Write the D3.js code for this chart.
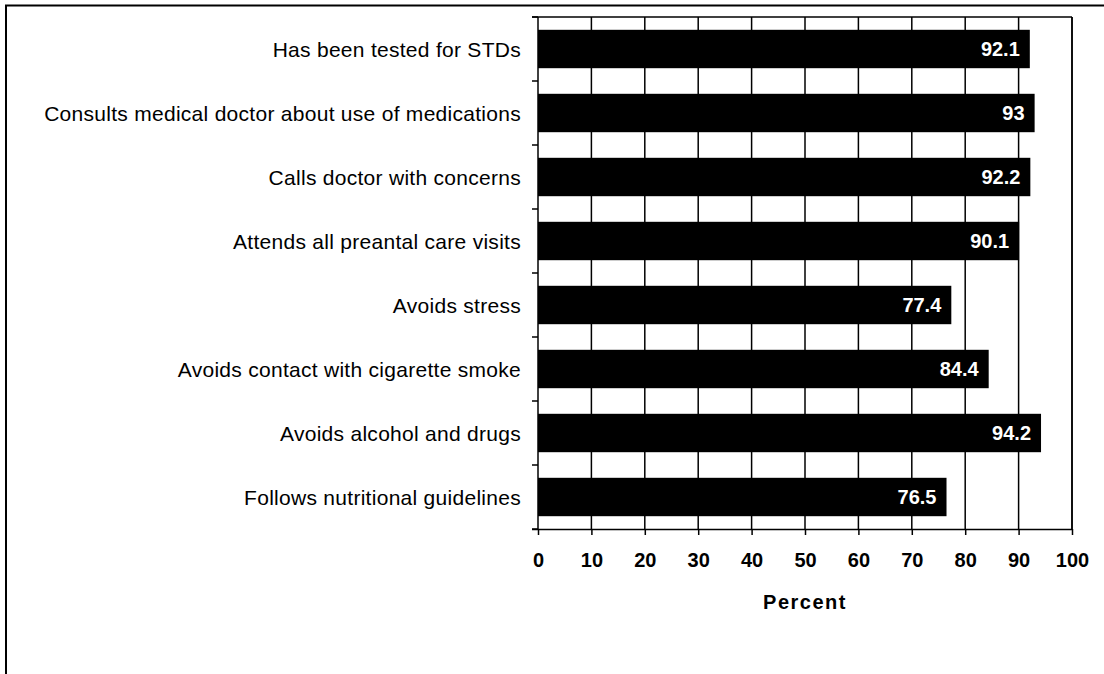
<!DOCTYPE html>
<html>
<head>
<meta charset="utf-8">
<script src="https://cdn.jsdelivr.net/npm/d3@7"></script>
<style>
  html, body { margin: 0; padding: 0; background: #fff; }
  svg { display: block; }
  text { font-family: "Liberation Sans", Arial, sans-serif; }
</style>
</head>
<body>
<div id="chart"></div>
<script>
// Prenatal behaviours, percent of respondents
const categories = [
  "Has been tested for STDs",
  "Consults medical doctor about use of medications",
  "Calls doctor with concerns",
  "Attends all preantal care visits",
  "Avoids stress",
  "Avoids contact with cigarette smoke",
  "Avoids alcohol and drugs",
  "Follows nutritional guidelines"
];
const values = [92.1, 93, 92.2, 90.1, 77.4, 84.4, 94.2, 76.5];
const valueLabels = ["92.1", "93", "92.2", "90.1", "77.4", "84.4", "94.2", "76.5"];
const xTicks = [0, 10, 20, 30, 40, 50, 60, 70, 80, 90, 100];
const xTitle = "Percent";

const W = 1104, H = 674;
const plot = { left: 538, right: 1072, top: 17, bottom: 529 };

const svg = d3.select("#chart").append("svg")
  .attr("width", W).attr("height", H);

// outer frame (top and left edges)
svg.append("line").attr("x1", 5).attr("x2", W).attr("y1", 5.5).attr("y2", 5.5)
  .attr("stroke", "#000").attr("stroke-width", 2);
svg.append("line").attr("x1", 6).attr("x2", 6).attr("y1", 5).attr("y2", H)
  .attr("stroke", "#000").attr("stroke-width", 2);

const x = d3.scaleLinear().domain([0, 100]).range([plot.left, plot.right]);
const y = d3.scaleBand().domain(categories).range([plot.top, plot.bottom])
  .paddingInner(0.4).paddingOuter(0.2);

// vertical gridlines
svg.append("g").selectAll("line").data(xTicks.filter(d => d > 0))
  .join("line")
  .attr("x1", d => x(d)).attr("x2", d => x(d))
  .attr("y1", plot.top).attr("y2", plot.bottom)
  .attr("stroke", "#000").attr("stroke-width", 1.5);

// top border of plot area
svg.append("line")
  .attr("x1", plot.left - 6).attr("x2", plot.right)
  .attr("y1", plot.top).attr("y2", plot.top)
  .attr("stroke", "#000").attr("stroke-width", 1.5);

// bars
svg.append("g").selectAll("rect").data(values)
  .join("rect")
  .attr("x", x(0))
  .attr("y", (d, i) => y(categories[i]))
  .attr("width", d => x(d) - x(0))
  .attr("height", y.bandwidth())
  .attr("fill", "#000");

// value labels inside bar ends
svg.append("g").selectAll("text").data(values)
  .join("text")
  .attr("x", d => x(d) - 10)
  .attr("y", (d, i) => y(categories[i]) + y.bandwidth() / 2)
  .attr("dy", "0.36em")
  .attr("text-anchor", "end")
  .attr("fill", "#fff")
  .attr("font-weight", "bold")
  .attr("font-size", 20)
  .text((d, i) => valueLabels[i]);

// x axis
const xAxis = d3.axisBottom(x).tickValues(xTicks).tickSizeInner(6).tickSizeOuter(0).tickPadding(18);
const gx = svg.append("g").attr("transform", `translate(0,${plot.bottom})`).call(xAxis);
gx.select(".domain").attr("d", `M${plot.left - 6},0.5H${plot.right}`)
  .attr("stroke", "#000").attr("stroke-width", 1.5);
gx.selectAll(".tick line").attr("stroke", "#000").attr("stroke-width", 1.5);
gx.selectAll(".tick text")
  .attr("font-family", "'Liberation Sans', Arial, sans-serif")
  .attr("font-size", 20).attr("font-weight", "bold").attr("fill", "#000");

// y axis with ticks at category boundaries
const bounds = d3.range(categories.length + 1).map(i => plot.top + i * (plot.bottom - plot.top) / categories.length);
svg.append("line").attr("x1", plot.left).attr("x2", plot.left)
  .attr("y1", plot.top).attr("y2", plot.bottom)
  .attr("stroke", "#000").attr("stroke-width", 1.5);
svg.append("g").selectAll("line").data(bounds)
  .join("line")
  .attr("x1", plot.left - 6).attr("x2", plot.left)
  .attr("y1", d => d).attr("y2", d => d)
  .attr("stroke", "#000").attr("stroke-width", 1.5);

// right border of plot area
svg.append("line").attr("x1", plot.right).attr("x2", plot.right)
  .attr("y1", plot.top).attr("y2", plot.bottom)
  .attr("stroke", "#000").attr("stroke-width", 1.5);

// category labels
svg.append("g").selectAll("text").data(categories)
  .join("text")
  .attr("x", plot.left - 17)
  .attr("y", d => y(d) + y.bandwidth() / 2)
  .attr("dy", "0.36em")
  .attr("text-anchor", "end")
  .attr("font-size", 21)
  .attr("letter-spacing", "0.28px")
  .attr("fill", "#000")
  .text(d => d);

// axis title
svg.append("text")
  .attr("x", (plot.left + plot.right) / 2)
  .attr("y", 609)
  .attr("text-anchor", "middle")
  .attr("font-size", 20)
  .attr("font-weight", "bold")
  .attr("letter-spacing", "1.5px")
  .text(xTitle);
</script>
</body>
</html>
